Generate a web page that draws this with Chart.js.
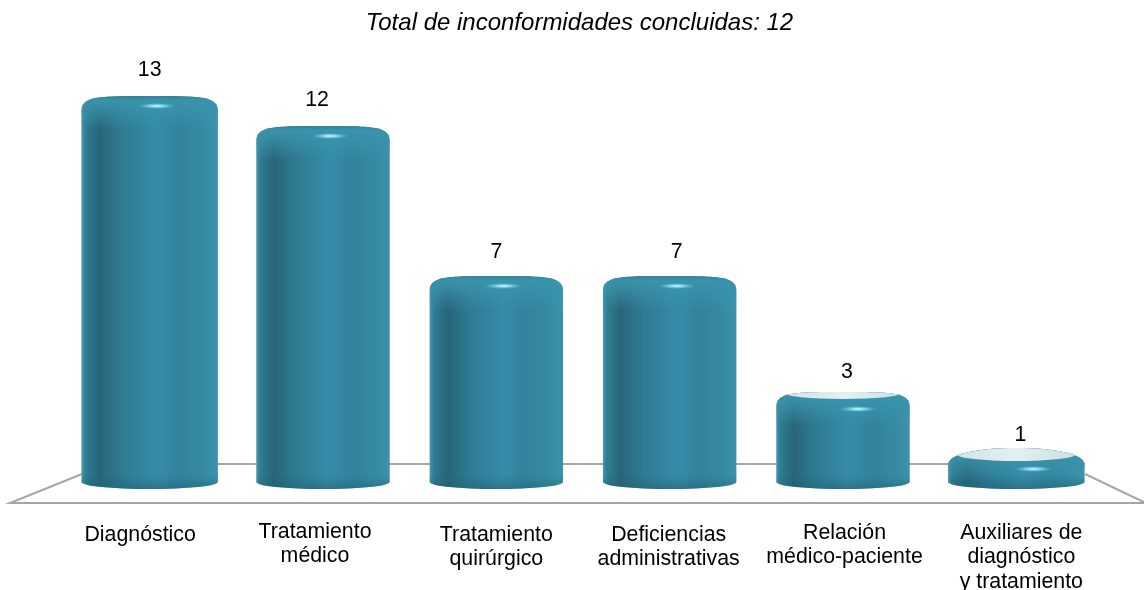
<!DOCTYPE html>
<html>
<head>
<meta charset="utf-8">
<style>
  html, body { margin: 0; padding: 0; background: #fff; overflow: hidden; }
  canvas { display: block; }
</style>
<script src="https://cdn.jsdelivr.net/npm/chart.js@4"></script>
</head>
<body>
<canvas id="chart1" width="1144" height="590"></canvas>
<script>
// Chart values
const chartTitle = 'Total de inconformidades concluidas: 12';
const categories = [
  ['Diagnóstico'],
  ['Tratamiento', 'médico'],
  ['Tratamiento', 'quirúrgico'],
  ['Deficiencias', 'administrativas'],
  ['Relación', 'médico-paciente'],
  ['Auxiliares de', 'diagnóstico', 'y tratamiento']
];
const inconformidades = [13, 12, 7, 7, 3, 1];

const fontFamily = '"Liberation Sans", Arial, sans-serif';

// The labels in the original are hand placed, not centred under the bars
const labelShiftX = [-9.5, -8, 0, -1, 1.5, 5];
const labelShiftY = [0, -3, 0, 0, -2, -2];
const valueShiftX = [0, -6, 0, 7, 4, 4];

// Moves the title box off the centre of the plot
const titleShiftPlugin = {
  id: 'titleShift',
  afterLayout(chart) {
    chart.titleBlock.left -= 3.5;
    chart.titleBlock.right -= 3.5;
  }
};

// Gray floor drawn behind the cylinders
const floorPlugin = {
  id: 'floor',
  beforeDatasetsDraw(chart) {
    const ctx = chart.ctx;
    ctx.save();
    ctx.strokeStyle = '#a6a6a6';
    ctx.lineWidth = 2;
    ctx.beginPath();
    ctx.moveTo(1150, 505);
    ctx.lineTo(1085, 474);
    ctx.moveTo(1085, 464);
    ctx.lineTo(82, 464);
    ctx.moveTo(82, 474);
    ctx.lineTo(10, 503);
    ctx.lineTo(1144, 503);
    ctx.stroke();
    ctx.restore();
  }
};

function bodyGradient(ctx, l, r) {
  const g = ctx.createLinearGradient(l, 0, r, 0);
  g.addColorStop(0, '#4a98ad');
  g.addColorStop(0.03, '#2f7d93');
  g.addColorStop(0.13, '#286579');
  g.addColorStop(0.3, '#2e7b92');
  g.addColorStop(0.55, '#368ca8');
  g.addColorStop(0.72, '#32839c');
  g.addColorStop(0.88, '#358aa2');
  g.addColorStop(1, '#3c92aa');
  return g;
}

// Rounded cylinders placed on the positions of the bar elements
const cylinderPlugin = {
  id: 'cylinder',
  afterDatasetsDraw(chart) {
    const ctx = chart.ctx;
    const bars = chart.getDatasetMeta(0).data;
    bars.forEach((bar, i) => {
      const w = bar.width + (i === 0 || i === bars.length - 1 ? 3 : 0);
      const cx = bar.x;
      const l = cx - w / 2;
      const r = cx + w / 2;
      const bottom = bar.base + 2;
      const tall = inconformidades[i] > 3;
      const top = Math.min(bar.y - (tall ? 1 : 5), bottom - 41);
      const low = bottom - top < 60;

      ctx.save();
      ctx.beginPath();
      ctx.moveTo(l, bottom - 7);
      ctx.ellipse(cx, bottom - 7, w / 2, 7, 0, Math.PI, 0, true);
      if (low) {
        ctx.lineTo(r, top + 16);
        ctx.bezierCurveTo(r - 1, top + 6, r - 30, top, cx, top);
        ctx.bezierCurveTo(l + 30, top, l + 1, top + 6, l, top + 16);
      } else {
        ctx.lineTo(r, top + 15);
        ctx.bezierCurveTo(r, top + 8, r - 4, top + 4, r - 14, top + 2);
        ctx.bezierCurveTo(r - 30, top, cx + 25, top, cx, top);
        ctx.bezierCurveTo(cx - 25, top, l + 30, top, l + 14, top + 2);
        ctx.bezierCurveTo(l + 4, top + 4, l, top + 8, l, top + 15);
      }
      ctx.closePath();
      ctx.fillStyle = bodyGradient(ctx, l, r);
      ctx.fill();
      ctx.clip();

      // lighter band along the dome
      const dome = ctx.createLinearGradient(0, top, 0, top + 34);
      dome.addColorStop(0, 'rgba(50,130,150,0.9)');
      dome.addColorStop(0.12, 'rgba(58,148,172,0.95)');
      dome.addColorStop(0.35, 'rgba(58,148,172,0.75)');
      dome.addColorStop(1, 'rgba(58,148,172,0)');
      ctx.fillStyle = dome;
      ctx.fillRect(l, top, w, 34);

      // darker foot
      const foot = ctx.createLinearGradient(0, bottom - 14, 0, bottom);
      foot.addColorStop(0, 'rgba(30,95,115,0)');
      foot.addColorStop(1, 'rgba(30,95,115,0.5)');
      ctx.fillStyle = foot;
      ctx.fillRect(l, bottom - 14, w, 14);

      // pale top face on the short cylinders
      if (!tall) {
        const capRy = low ? 7 : 6;
        const cap = ctx.createLinearGradient(l, 0, r, 0);
        cap.addColorStop(0, '#cfe2e8');
        cap.addColorStop(0.5, '#e4eff2');
        cap.addColorStop(1, '#c8dde4');
        ctx.beginPath();
        ctx.ellipse(cx, top + (low ? 6 : 1), w / 2 - 8, capRy, 0, 0, Math.PI * 2);
        ctx.fillStyle = cap;
        ctx.fill();
      }

      // highlight
      const hy = top + (tall ? 10 : low ? 21 : 17);
      const hx = cx + (tall ? 7 : low ? 17 : 15);
      ctx.translate(hx, hy);
      ctx.scale(1, 0.16);
      const shine = ctx.createRadialGradient(0, 0, 0, 0, 0, 19);
      shine.addColorStop(0, 'rgba(225,252,255,1)');
      shine.addColorStop(0.4, 'rgba(140,220,238,0.85)');
      shine.addColorStop(1, 'rgba(90,190,215,0)');
      ctx.fillStyle = shine;
      ctx.beginPath();
      ctx.arc(0, 0, 19, 0, Math.PI * 2);
      ctx.fill();
      ctx.restore();
    });
  }
};

// Values above the cylinders and category names under the floor
const textPlugin = {
  id: 'texts',
  afterDraw(chart) {
    const ctx = chart.ctx;
    ctx.save();
    ctx.fillStyle = '#000';
    ctx.font = '21.33px ' + fontFamily;
    ctx.textAlign = 'center';
    chart.getDatasetMeta(0).data.forEach((bar, i) => {
      const value = inconformidades[i];
      const gap = value > 10 ? 27 : value > 1 ? 25 : 22;
      ctx.textBaseline = 'middle';
      ctx.fillText(String(value), bar.x + valueShiftX[i], bar.y - gap);

      ctx.textBaseline = 'alphabetic';
      categories[i].forEach((line, n) => {
        ctx.fillText(line, bar.x + labelShiftX[i], bar.base + 54 + labelShiftY[i] + n * 24.3);
      });
    });
    ctx.restore();
  }
};

const chart1 = new Chart(document.getElementById('chart1').getContext('2d'), {
  type: 'bar',
  data: {
    labels: categories,
    datasets: [{
      data: inconformidades,
      backgroundColor: 'transparent',
      barPercentage: 0.77,
      categoryPercentage: 1
    }]
  },
  options: {
    responsive: false,
    animation: false,
    layout: { padding: { left: 63, right: 41, top: 0, bottom: 0 } },
    plugins: {
      legend: { display: false },
      tooltip: { enabled: false },
      title: {
        display: true,
        text: chartTitle,
        color: '#000',
        font: { family: fontFamily, size: 24, style: 'italic', weight: 'normal', lineHeight: 1 },
        padding: { top: 11.5, bottom: 1.5 }
      }
    },
    scales: {
      x: {
        grid: { display: false, drawTicks: false },
        border: { display: false },
        afterFit(scale) { scale.height = 103; },
        ticks: { display: false }
      },
      y: { display: false, min: 0, max: 15 }
    }
  },
  plugins: [titleShiftPlugin, floorPlugin, cylinderPlugin, textPlugin]
});
</script>
</body>
</html>
